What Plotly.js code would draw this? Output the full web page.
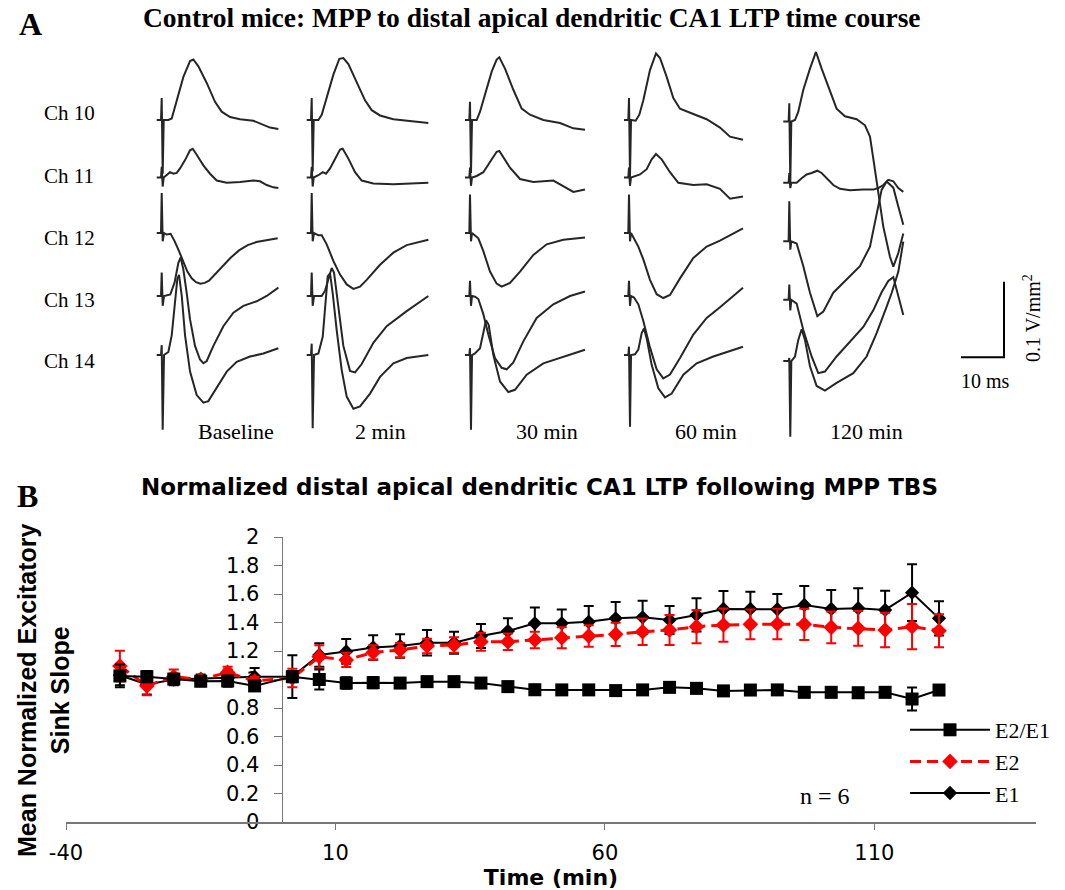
<!DOCTYPE html>
<html><head><meta charset="utf-8">
<script src="https://cdn.plot.ly/plotly-3.0.1.min.js"></script>
<style>html,body{margin:0;padding:0;background:#fff}#chart{width:1065px;height:890px}</style>
</head><body><div id="chart"></div>
<script>
// ---------------- Panel B data ----------------
const timeMin = [-30,-25,-20,-15,-10,-5,2,7,12,17,22,27,32,37,42,47,52,57,62,67,72,77,82,87,92,97,102,107,112,117,122];
const e1 = [1.03,0.965,1.0,1.005,1.01,1.02,1.02,1.172,1.197,1.225,1.235,1.258,1.258,1.305,1.34,1.394,1.394,1.405,1.429,1.436,1.418,1.453,1.495,1.495,1.493,1.523,1.495,1.5,1.488,1.609,1.429];
const e1Err = [0.07,0.07,0.04,0.03,0.06,0.06,0.15,0.082,0.087,0.086,0.082,0.089,0.077,0.084,0.089,0.112,0.098,0.11,0.114,0.117,0.098,0.117,0.126,0.121,0.107,0.133,0.133,0.14,0.135,0.199,0.121];
const e2 = [1.095,0.955,1.02,1.0,1.05,0.99,1.01,1.16,1.137,1.19,1.207,1.235,1.242,1.265,1.265,1.277,1.293,1.305,1.317,1.335,1.347,1.371,1.382,1.387,1.389,1.387,1.366,1.359,1.347,1.371,1.342];
const e2Err = [0.107,0.065,0.05,0.02,0.04,0.03,0.065,0.08,0.05,0.05,0.05,0.051,0.054,0.063,0.058,0.058,0.074,0.075,0.082,0.093,0.105,0.116,0.117,0.105,0.107,0.11,0.112,0.122,0.121,0.159,0.116];
const ratio = [1.025,1.02,1.003,0.988,0.99,0.955,1.02,1.0,0.975,0.978,0.975,0.985,0.985,0.975,0.95,0.928,0.927,0.927,0.922,0.927,0.945,0.938,0.92,0.926,0.927,0.91,0.91,0.907,0.91,0.863,0.926];
const ratioErr = [0.08,0.04,0.035,0.035,0.035,0.035,0.04,0.07,0.04,0.04,0.035,0.035,0.035,0.035,0.035,0.035,0.035,0.035,0.035,0.035,0.035,0.035,0.035,0.035,0.035,0.035,0.035,0.035,0.035,0.08,0.035];
const xTickVals = [-40, 10, 60, 110];
const xTickText = ['-40', '10', '60', '110'];

// ---------------- Panel A waveforms: t = ms after stimulus, v = mV/mm^2 ----------------
const colLabels = ["Baseline", "2 min", "30 min", "60 min", "120 min"];
const chLabels = ["Ch 10", "Ch 11", "Ch 12", "Ch 13", "Ch 14"];

const baseCh10T = [-1.16,-0.16,0,0.23,0.47,1.55,2.33,3.49,5.04,6.59,7.36,8.53,10.47,12.4,13.95,15.89,18.22,21.32,23.64,25.19,27.13];
const baseCh10V = [0,0,29,-71,0,0,2,26,57,78,80,71,49,24,11,4,1,-1,-7,-10,-12];
const baseCh11T = [-1.16,-0.16,0,0.23,0.47,1.16,1.94,2.71,3.49,4.26,5.43,6.59,7.21,8.14,9.69,11.24,12.79,15.12,18.22,21.32,22.87,24.42,25.97,27.13];
const baseCh11V = [0,0,14,-12,0,3,7,5,6,12,23,36,38,30,16,5,-4,-7,-6,-4,-5,-10,-13,-14];
const baseCh12T = [-1.16,-0.16,0,0.23,0.54,1.16,2.09,3.02,4.03,5.04,5.97,6.98,7.98,8.99,10.0,11.0,12.02,14.03,15.97,17.98,20.0,22.02,24.03,26.98];
const baseCh12V = [0,0,53,-11,0,-2,-1,-11,-24,-37,-51,-60,-65,-67,-66,-63,-57,-45,-33,-23,-16,-12,-10,-7];
const baseCh13T = [-1.16,-0.16,0,0.23,0.54,2.0,3.0,3.88,4.42,5.04,5.81,6.59,7.75,8.91,9.69,10.47,12.02,14.34,16.67,18.99,22.09,24.42,27.13];
const baseCh13V = [0,0,31,-13,0,2,18,44,51,35,4,-31,-66,-84,-89,-86,-66,-40,-22,-13,-7,0,11];
const baseCh14T = [-1.16,-0.16,0,0.23,0.54,1.55,2.33,3.1,3.64,4.03,4.65,5.43,6.59,8.14,9.69,10.85,12.79,15.12,17.44,20.54,23.64,27.13];
const baseCh14V = [0,0,13,-99,0,4,26,71,101,106,79,26,-22,-53,-63,-61,-44,-22,-9,-2,2,9];

const m2Ch10T = [-1.16,-0.16,0,0.23,0.47,1.55,2.33,3.49,5.04,6.43,7.36,8.53,10.47,12.4,13.95,15.89,18.99,22.09,27.13];
const m2Ch10V = [0,0,29,-68,0,0,7,29,60,81,82,74,49,26,13,6,1,-1,-4];
const m2Ch11T = [-1.16,-0.16,0,0.23,0.47,1.55,2.56,3.33,4.26,5.43,6.59,7.21,8.53,10.08,11.63,14.34,18.99,27.13];
const m2Ch11V = [0,0,14,-12,0,3,7,5,12,25,37,38,25,7,-4,-8,-9,-7];
const m2Ch12T = [-1.16,-0.16,0,0.23,0.54,1.55,2.33,3.49,5.04,6.59,8.14,9.69,11.24,12.79,15.89,18.99,22.09,27.13];
const m2Ch12V = [0,0,53,-11,0,-3,-3,-15,-37,-55,-68,-74,-71,-62,-42,-26,-16,-9];
const m2Ch13T = [-1.16,-0.16,0,0.23,0.54,2.33,3.1,3.88,4.65,5.19,6.2,7.36,8.91,10.08,11.63,14.34,17.44,22.09,27.13];
const m2Ch13V = [0,0,31,-13,0,0,7,22,37,31,-13,-66,-99,-101,-90,-62,-40,-20,0];
const m2Ch14T = [-1.16,-0.16,0,0.23,0.54,1.55,2.56,3.18,3.72,4.26,4.88,5.81,6.98,8.14,9.69,11.24,13.57,15.89,18.99,22.09,27.13];
const m2Ch14V = [0,0,15,-97,0,2,24,64,104,108,82,33,-20,-55,-71,-68,-51,-29,-11,-4,0];

const m30Ch10T = [-1.16,-0.16,0,0.23,0.47,1.55,2.33,3.49,5.04,6.2,6.82,8.14,10.08,12.02,13.95,17.05,20.93,24.03,26.74];
const m30Ch10V = [0,0,24,-70,0,0,11,35,64,80,83,68,40,15,7,0,-4,-11,-13];
const m30Ch11T = [-1.16,-0.16,0,0.23,0.47,1.55,3.1,4.65,6.2,6.82,9.3,11.63,14.73,19.38,21.71,24.03,26.74];
const m30Ch11V = [0,0,13,-11,0,2,7,20,34,35,13,-2,-6,-4,-11,-19,-16];
const m30Ch12T = [-1.16,-0.16,0,0.23,0.47,1.16,1.94,3.1,4.65,6.2,7.36,9.3,11.63,14.73,17.83,21.71,26.74];
const m30Ch12V = [0,0,51,-11,0,-3,-7,-24,-51,-67,-71,-66,-51,-29,-15,-9,-6];
const m30Ch13T = [-1.16,-0.16,0,0.23,0.47,1.16,1.94,3.1,4.26,5.81,7.36,8.53,10.08,12.4,15.5,19.38,23.26,26.74];
const m30Ch13V = [0,0,20,-13,0,-1,-4,-24,-51,-82,-95,-97,-88,-60,-29,-11,0,6];
const m30Ch14T = [-1.16,-0.16,0,0.23,0.47,1.16,2.33,3.1,3.72,4.34,5.43,6.98,8.91,10.47,13.18,17.05,21.71,26.74];
const m30Ch14V = [0,0,9,-99,0,2,9,31,46,40,0,-35,-49,-46,-26,-11,-2,7];

const m60Ch10T = [-1.16,-0.16,0,0.23,0.47,1.55,2.4,3.33,4.88,6.28,7.21,8.76,10.31,11.86,14.96,18.06,21.16,23.49,26.51];
const m60Ch10V = [0,0,29,-75,0,-1,7,26,66,88,82,57,29,15,8,1,-10,-22,-26];
const m60Ch11T = [-1.16,-0.16,0,0.23,0.47,1.4,2.56,4.11,5.27,6.28,7.6,9.53,11.47,14.96,18.06,21.16,23.49,26.51];
const m60Ch11V = [0,0,13,-11,0,2,4,11,24,31,24,7,-7,-10,-9,-15,-28,-25];
const m60Ch12T = [-1.16,-0.16,0,0.23,0.47,1.16,2.17,3.33,4.88,6.43,7.98,9.53,11.86,14.96,18.06,21.16,26.51];
const m60Ch12V = [0,0,51,-11,0,-7,-18,-35,-62,-81,-86,-82,-60,-33,-18,-10,6];
const m60Ch13T = [-1.16,-0.16,0,0.23,0.47,1.16,2.17,3.33,4.88,6.43,7.98,9.53,11.86,14.96,18.06,21.16,26.51];
const m60Ch13V = [0,0,20,-13,0,-2,-11,-33,-68,-97,-109,-104,-82,-51,-29,-15,11];
const m60Ch14T = [-1.16,-0.16,0,0.23,0.47,1.4,2.17,2.95,3.49,4.11,5.27,6.82,8.37,9.92,12.64,15.74,19.61,26.51];
const m60Ch14V = [0,0,11,-95,0,1,7,29,35,22,-13,-44,-56,-51,-26,-11,-2,11];

const m120Ch10T = [-1.4,-0.16,0,0.23,0.47,1.32,2.09,3.26,4.81,6.2,7.52,9.46,11.0,12.95,15.66,17.6,18.76,19.69,20.7,21.86,23.41,24.19,25.35,26.51];
const m120Ch10V = [-2,-2,22,-84,-2,0,11,40,68,90,68,37,15,5,1,-7,-22,-57,-97,-141,-181,-194,-176,-150];
const m120Ch11T = [-1.4,-0.16,0,0.23,0.47,1.71,2.87,4.03,5.19,6.51,7.52,8.68,10.23,11.78,14.11,17.21,19.53,20.7,21.86,23.02,24.19,25.35,26.51];
const m120Ch11V = [-7,-7,6,-14,-7,-7,-1,4,6,9,6,-1,-10,-15,-17,-16,-16,-14,-10,-3,-5,-14,-19];
const m120Ch12T = [-1.4,-0.16,0,0.23,0.47,1.71,3.26,4.81,6.51,7.91,10.23,13.33,16.43,18.76,20.31,21.47,22.64,24.19,25.35,26.51];
const m120Ch12V = [-11,-11,42,-22,-11,-14,-44,-79,-110,-104,-79,-62,-44,-18,26,57,68,60,35,11];
const m120Ch13T = [-1.4,-0.16,0,0.23,0.47,1.71,3.26,5.19,6.74,8.29,11.0,14.11,17.21,19.53,21.47,23.02,24.19,25.35,26.51];
const m120Ch13V = [-5,-5,15,-19,-5,-10,-45,-80,-102,-100,-80,-60,-41,-19,5,20,25,0,-25];
const m120Ch14T = [-1.4,-0.16,0,0.23,0.47,1.32,2.09,2.87,3.64,4.81,6.36,8.29,11.0,14.88,17.98,20.31,22.64,23.8,25.35,26.51];
const m120Ch14V = [-8,-8,-4,-108,-8,-2,20,34,20,-15,-41,-47,-37,-24,-2,29,64,82,110,150];

const waveforms = [
  [baseCh10T, baseCh10V, baseCh11T, baseCh11V, baseCh12T, baseCh12V, baseCh13T, baseCh13V, baseCh14T, baseCh14V],
  [m2Ch10T, m2Ch10V, m2Ch11T, m2Ch11V, m2Ch12T, m2Ch12V, m2Ch13T, m2Ch13V, m2Ch14T, m2Ch14V],
  [m30Ch10T, m30Ch10V, m30Ch11T, m30Ch11V, m30Ch12T, m30Ch12V, m30Ch13T, m30Ch13V, m30Ch14T, m30Ch14V],
  [m60Ch10T, m60Ch10V, m60Ch11T, m60Ch11V, m60Ch12T, m60Ch12V, m60Ch13T, m60Ch13V, m60Ch14T, m60Ch14V],
  [m120Ch10T, m120Ch10V, m120Ch11T, m120Ch11V, m120Ch12T, m120Ch12V, m120Ch13T, m120Ch13V, m120Ch14T, m120Ch14V]
];

// ---------------- Layout geometry (pixels on the 1065x890 page) ----------------
const W = 1065, H = 890;
const pxPerMs = 4.3;          // 10 ms scale bar = 43 px
const pxPerV = 756;           // 0.1 V/mm^2 scale bar = 75.6 px
const colStimPx = [161.7, 311.7, 470, 629, 789.3];
const chBasePx = [120, 177.5, 233, 296, 355];
const aTop = 40, aBot = 450;

const fx = px => px / W;
const fy = py => 1 - py / H;

const traces = [];
waveforms.forEach((col, ci) => {
  for (let ch = 0; ch < 5; ch++) {
    const t = col[2*ch], v = col[2*ch+1];
    traces.push({
      type: 'scatter', mode: 'lines', xaxis: 'x2', yaxis: 'y2', showlegend: false, hoverinfo: 'skip',
      x: t.map(tt => tt + colStimPx[ci] / pxPerMs),
      y: v.map(vv => vv / 1000 - chBasePx[ch] / pxPerV),
      line: {color: '#262626', width: 2}
    });
  }
});
// scale bar: 10 ms x 0.1 V/mm^2
const sbX = 961 / pxPerMs, sbY = -357.3 / pxPerV;
traces.push({type: 'scatter', mode: 'lines', xaxis: 'x2', yaxis: 'y2', showlegend: false, hoverinfo: 'skip',
  x: [sbX, sbX + 10, sbX + 10], y: [sbY, sbY, sbY + 0.1], line: {color: '#000', width: 2}});

// Panel B series
traces.push({
  type: 'scatter', mode: 'lines+markers', name: 'E1', x: timeMin, y: e1,
  line: {color: '#000', width: 2}, marker: {symbol: 'diamond', size: 11, color: '#000'},
  error_y: {type: 'data', array: e1Err, visible: true, color: '#000', thickness: 2, width: 5}
});
traces.push({
  type: 'scatter', mode: 'lines+markers', name: 'E2', x: timeMin, y: e2,
  line: {color: '#ff0000', width: 3, dash: '11px,6px'}, marker: {symbol: 'diamond', size: 12, color: '#ff0000'},
  error_y: {type: 'data', array: e2Err, visible: true, color: '#ff0000', thickness: 2, width: 5}
});
traces.push({
  type: 'scatter', mode: 'lines+markers', name: 'E2/E1', x: timeMin, y: ratio,
  line: {color: '#000', width: 2}, marker: {symbol: 'square', size: 13, color: '#000'},
  error_y: {type: 'data', array: ratioErr, visible: true, color: '#000', thickness: 2, width: 5}
});

const serif = 'Liberation Serif, Times New Roman, serif';
const sans = 'DejaVu Sans, Arial, sans-serif';
const bxD = [fx(66), fx(1036)];
const xr = [-40, 140];
const yPos = bxD[0] + (0 - xr[0]) / (xr[1] - xr[0]) * (bxD[1] - bxD[0]);

function ann(text, px, py, size, opts) {
  return Object.assign({text: text, xref: 'paper', yref: 'paper', x: fx(px), y: fy(py),
    xanchor: 'center', yanchor: 'middle', showarrow: false,
    font: {family: serif, size: size, color: '#000'}}, opts || {});
}

const annotations = [
  ann('A', 30, 24, 32, {font: {family: serif, size: 32, weight: 'bold', color: '#000'}}),
  ann('Control mice: MPP to distal apical dendritic CA1 LTP time course', 532, 18, 27.5, {font: {family: serif, size: 27.5, weight: 'bold', color: '#000'}}),
  ann('B', 27, 496, 32, {font: {family: serif, size: 32, weight: 'bold', color: '#000'}}),
  ann('Normalized distal apical dendritic CA1 LTP following MPP TBS', 539, 487, 23, {font: {family: sans, size: 23, weight: 'bold', color: '#000'}}),
  ann('Mean Normalized Excitatory<br>Sink Slope', 43, 690, 25, {textangle: -90, font: {family: 'Liberation Sans, Arial, sans-serif', size: 25, weight: 'bold', color: '#000'}}),
  ann('n = 6', 825, 796, 24),
  ann('10 ms', 985, 381, 20),
  ann('0.1 V/mm<sup>2</sup>', 1032, 318, 20, {textangle: -90})
];
chLabels.forEach((lab, i) => annotations.push(ann(lab, 42, [113, 176, 238, 300, 361][i], 21, {xanchor: 'left'})));
const colLabelX = [236, 380, 547, 706, 866];
colLabels.forEach((lab, i) => annotations.push(ann(lab, colLabelX[i], 432, 22)));

const layout = {
  width: W, height: H, margin: {l: 0, r: 0, t: 0, b: 0},
  paper_bgcolor: '#fff', plot_bgcolor: 'rgba(0,0,0,0)',
  showlegend: true,
  legend: {x: fx(905), y: fy(709), xanchor: 'left', yanchor: 'top', traceorder: 'reversed',
    font: {family: serif, size: 22, color: '#000'}, bgcolor: 'rgba(0,0,0,0)', itemwidth: 80, tracegroupgap: 0},
  xaxis: {domain: bxD, range: xr, tickvals: xTickVals, ticktext: xTickText, ticks: 'outside', ticklen: 6, tickwidth: 1, tickcolor: '#777',
    showline: true, linecolor: '#777', linewidth: 1.5, showgrid: false, zeroline: false, anchor: 'y',
    tickfont: {family: sans, size: 21, color: '#000'}, ticklabelstandoff: 5,
    title: {text: 'Time (min)', font: {family: sans, size: 22, weight: 'bold', color: '#000'}, standoff: 2}},
  yaxis: {domain: [fy(822), fy(537)], range: [0, 2], dtick: 0.2, tick0: 0, ticks: 'outside', ticklen: 8, tickwidth: 1, tickcolor: '#777',
    showline: true, linecolor: '#777', linewidth: 1.5, showgrid: false, zeroline: false, anchor: 'free', position: yPos,
    tickfont: {family: sans, size: 21, color: '#000'}, ticklabelstandoff: 10, layer: 'below traces'},
  xaxis2: {domain: [0, 1], range: [0, W / pxPerMs], visible: false, fixedrange: true},
  yaxis2: {domain: [fy(aBot), fy(aTop)], range: [-aBot / pxPerV, -aTop / pxPerV], visible: false, fixedrange: true, anchor: 'x2'},
  annotations: annotations
};

Plotly.newPlot('chart', traces, layout, {displayModeBar: false, staticPlot: true});
</script></body></html>
